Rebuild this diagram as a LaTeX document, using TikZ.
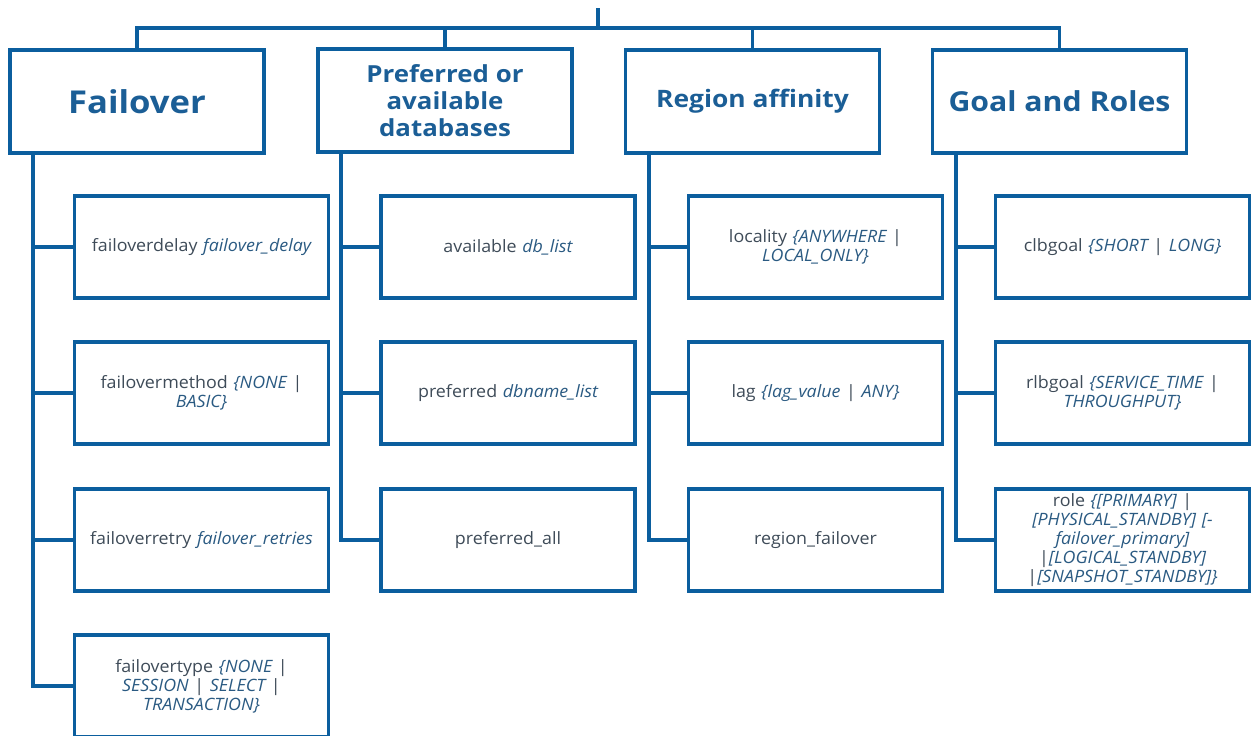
\documentclass[tikz,border=0pt]{standalone}
\usepackage{fontspec}
\setmainfont{Open Sans}[FakeStretch=1.05]
\newfontfamily\headfont{Open Sans}[FakeStretch=1.1]
\definecolor{linkblue}{HTML}{0B5E9E}
\definecolor{headblue}{HTML}{1B5E96}
\definecolor{plaingray}{HTML}{3E4B58}
\definecolor{argblue}{HTML}{2A5A82}
\newcommand{\attr}[1]{\textcolor{argblue}{\itshape #1}}
\begin{document}
\begin{tikzpicture}[x=1pt,y=-1pt,
  link/.style={draw=linkblue,line width=3.6pt,line join=miter},
  headbox/.style={link,rectangle,minimum width=254pt,minimum height=103pt,
    align=center,text=headblue,inner sep=0pt},
  leafbox/.style={link,rectangle,minimum width=254pt,minimum height=102pt,
    align=center,text=plaingray,font=\fontsize{17}{19}\selectfont,
    inner sep=0pt,text width=250pt}]
\useasboundingbox (0,0) rectangle (1256,736);

% category headers
\node[headbox,font=\headfont\bfseries\fontsize{31.5}{34}\selectfont] (h1) at (137,101.5) {Failover};
\node[headbox,font=\headfont\bfseries\fontsize{23.5}{27}\selectfont] (h2) at (445,100.5) {Preferred or\\available\\databases};
\node[headbox,font=\headfont\bfseries\fontsize{24}{28}\selectfont] (h3) at (752.5,101.5) {Region affinity};
\node[headbox,font=\headfont\bfseries\fontsize{27.5}{32}\selectfont] (h4) at (1059.5,101.5) {Goal and Roles};

% failover attributes
\node[leafbox] (f1) at (201.5,247) {failoverdelay \attr{failover\_delay}};
\node[leafbox] (f2) at (201.5,393) {failovermethod \attr{\{NONE} |\\\attr{BASIC\}}};
\node[leafbox] (f3) at (201.5,540) {failoverretry \attr{failover\_retries}};
\node[leafbox] (f4) at (201.5,686) {failovertype \attr{\{NONE} |\\\attr{SESSION} | \attr{SELECT} |\\\attr{TRANSACTION\}}};

% database placement attributes
\node[leafbox] (p1) at (508,247) {available \attr{db\_list}};
\node[leafbox] (p2) at (508,393) {preferred \attr{dbname\_list}};
\node[leafbox] (p3) at (508,540) {preferred\_all};

% region attributes
\node[leafbox] (r1) at (815.5,247) {locality \attr{\{ANYWHERE} |\\\attr{LOCAL\_ONLY\}}};
\node[leafbox] (r2) at (815.5,393) {lag \attr{\{lag\_value} | \attr{ANY\}}};
\node[leafbox] (r3) at (815.5,540) {region\_failover};

% goal and role attributes
\node[leafbox] (g1) at (1122.5,247) {clbgoal \attr{\{SHORT} | \attr{LONG\}}};
\node[leafbox] (g2) at (1122.5,393) {rlbgoal \attr{\{SERVICE\_TIME} |\\\attr{THROUGHPUT\}}};
\node[leafbox] (g3) at (1122.5,540) {role \attr{\{[PRIMARY]} |\\\attr{[PHYSICAL\_STANDBY] [-}\\\attr{failover\_primary]}\\|\attr{[LOGICAL\_STANDBY]}\\|\attr{[SNAPSHOT\_STANDBY]\}}};

% root bus
\coordinate (top) at (598,8);
\coordinate (bus) at (598,28);
\draw[link] (top) -- (bus);
\draw[link] (h1.north) |- (bus) -| (h4.north);
\draw[link] (h2.north) |- (bus);
\draw[link] (h3.north) |- (bus);

% column trunks
\draw[link] ([xshift=25pt]h1.south west) |- (f4.west);
\draw[link] ([xshift=25pt]h1.south west) |- (f1.west);
\draw[link] ([xshift=25pt]h1.south west) |- (f2.west);
\draw[link] ([xshift=25pt]h1.south west) |- (f3.west);

\draw[link] ([xshift=25pt]h2.south west) |- (p3.west);
\draw[link] ([xshift=25pt]h2.south west) |- (p1.west);
\draw[link] ([xshift=25pt]h2.south west) |- (p2.west);

\draw[link] ([xshift=25pt]h3.south west) |- (r3.west);
\draw[link] ([xshift=25pt]h3.south west) |- (r1.west);
\draw[link] ([xshift=25pt]h3.south west) |- (r2.west);

\draw[link] ([xshift=25pt]h4.south west) |- (g3.west);
\draw[link] ([xshift=25pt]h4.south west) |- (g1.west);
\draw[link] ([xshift=25pt]h4.south west) |- (g2.west);
\end{tikzpicture}
\end{document}
